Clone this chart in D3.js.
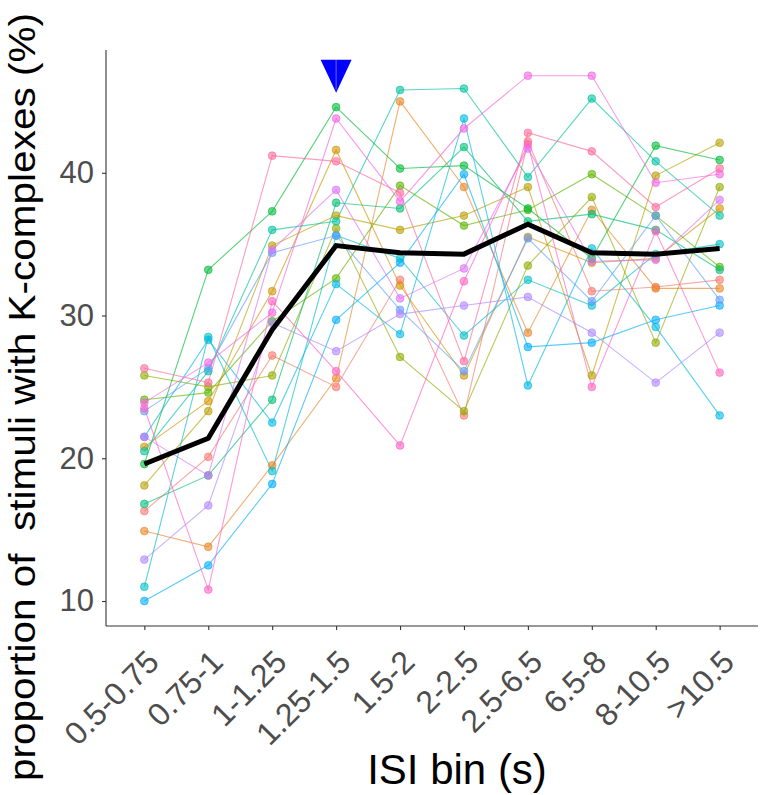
<!DOCTYPE html>
<html>
<head>
<meta charset="utf-8">
<script src="https://cdn.jsdelivr.net/npm/d3@7"></script>
<style>
  html, body { margin: 0; padding: 0; background: #fff; }
  svg { display: block; }
</style>
</head>
<body>
<svg id="chart" width="760" height="795"></svg>
<script>
// ---------------- data ----------------
const categories = ["0.5-0.75", "0.75-1", "1-1.25", "1.25-1.5", "1.5-2", "2-2.5", "2.5-6.5", "6.5-8", "8-10.5", ">10.5"];
const yTicks = [10, 20, 30, 40];

const subj01 = [16.3, 20.1, 27.2, 25.0, 32.5, 23.0, 42.2, 31.7, 32.0, 32.5];
const subj02 = [14.9, 13.8, 19.5, 25.6, 45.0, 39.0, 28.8, 37.4, 31.9, 31.9];
const subj03 = [20.8, 24.0, 31.7, 41.6, 32.1, 25.8, 35.5, 33.7, 34.0, 37.5];
const subj04 = [18.1, 23.3, 34.9, 37.0, 36.0, 37.0, 39.0, 25.8, 39.8, 42.1];
const subj05 = [25.8, 25.0, 25.8, 36.1, 27.1, 23.3, 33.5, 38.3, 28.1, 39.0];
const subj06 = [24.1, 24.6, 29.6, 32.6, 39.1, 36.3, 37.4, 39.9, 37.0, 33.4];
const subj07 = [19.6, 33.2, 37.3, 44.6, 40.3, 40.5, 37.5, 34.0, 41.9, 40.9];
const subj08 = [16.8, 18.8, 24.1, 37.9, 37.5, 41.8, 36.6, 37.1, 36.0, 33.2];
const subj09 = [20.5, 26.1, 36.0, 36.6, 45.8, 45.9, 39.7, 45.2, 40.8, 37.0];
const subj10 = [11.0, 28.5, 19.1, 35.6, 34.0, 28.6, 32.5, 30.7, 34.3, 35.0];
const subj11 = [21.5, 28.3, 22.5, 32.2, 28.7, 43.8, 25.1, 34.7, 29.2, 23.0];
const subj12 = [10.0, 12.5, 18.2, 29.7, 33.7, 39.9, 27.8, 28.1, 29.7, 30.7];
const subj13 = [23.3, 26.3, 34.4, 35.6, 30.4, 26.1, 35.4, 31.0, 37.0, 31.1];
const subj14 = [12.9, 16.7, 29.5, 27.5, 30.1, 30.7, 31.3, 28.8, 25.3, 28.8];
const subj15 = [21.5, 18.8, 34.6, 38.8, 31.2, 33.3, 41.7, 33.8, 33.9, 38.1];
const subj16 = [23.9, 26.7, 30.2, 43.8, 38.0, 43.1, 46.8, 46.8, 39.3, 39.9];
const subj17 = [23.5, 10.8, 31.0, 26.1, 20.9, 32.4, 42.0, 25.0, 35.9, 26.0];
const subj18 = [26.3, 25.3, 41.2, 40.8, 38.6, 26.8, 42.8, 41.5, 37.6, 40.3];

const meanValues = [19.6, 21.4, 29.0, 34.9, 34.4, 34.3, 36.4, 34.4, 34.3, 34.7];
const markerCategory = "1.25-1.5";
const markerValue = 45.6;

const subjectColors = ["#F8766D", "#E88526", "#D39200", "#B79F00", "#93AA00", "#5EB300",
  "#00BA38", "#00BF74", "#00C19F", "#00BFC4", "#00B9E3", "#00ADFA",
  "#619CFF", "#AE87FF", "#DB72FB", "#F564E3", "#FF61C3", "#FF699C"];

const subjects = [subj01, subj02, subj03, subj04, subj05, subj06, subj07, subj08, subj09,
  subj10, subj11, subj12, subj13, subj14, subj15, subj16, subj17, subj18];

// ---------------- chart ----------------
const font = "'Liberation Sans', Arial, sans-serif";
const svg = d3.select("#chart");
const plot = { left: 106, right: 758, top: 50, bottom: 626 };

const x = d3.scalePoint().domain(categories).range([plot.left, plot.right]).padding(0.6);
const y = d3.scaleLinear().domain([8.25, 48.6]).range([plot.bottom, plot.top]);

const line = d3.line().x((d, i) => x(categories[i])).y(d => y(d));

// subject lines
const gLines = svg.append("g");
subjects.forEach((s, k) => {
  gLines.append("path")
    .datum(s)
    .attr("d", line)
    .attr("fill", "none")
    .attr("stroke", subjectColors[k])
    .attr("stroke-opacity", 0.65)
    .attr("stroke-width", 1.1);
});

// subject points
const gPts = svg.append("g");
subjects.forEach((s, k) => {
  gPts.selectAll(null)
    .data(s)
    .join("circle")
    .attr("cx", (d, i) => x(categories[i]))
    .attr("cy", d => y(d))
    .attr("r", 3.9)
    .attr("fill", subjectColors[k])
    .attr("fill-opacity", 0.6)
    .attr("stroke", subjectColors[k])
    .attr("stroke-opacity", 0.75)
    .attr("stroke-width", 0.8);
});

// mean line
svg.append("path")
  .datum(meanValues)
  .attr("d", line)
  .attr("fill", "none")
  .attr("stroke", "#000")
  .attr("stroke-width", 5)
  .attr("stroke-linejoin", "miter");

// marker triangle
const mx = x(markerCategory), my = y(markerValue);
const tw = 31, th = 33;
svg.append("path")
  .attr("d", `M${mx - tw / 2},${my - th} L${mx + tw / 2},${my - th} L${mx},${my} Z`)
  .attr("fill", "#0000FF");
svg.append("line")
  .attr("x1", mx).attr("x2", mx)
  .attr("y1", my - th).attr("y2", my - 3)
  .attr("stroke", "#ffffff").attr("stroke-opacity", 0.5).attr("stroke-width", 0.8);

// axes
const axisColor = "#333333";
const tickTextColor = "#4D4D4D";

const gy = svg.append("g")
  .attr("transform", `translate(${plot.left},0)`)
  .call(d3.axisLeft(y).tickValues(yTicks).tickSize(4).tickSizeOuter(0).tickPadding(8));
gy.select(".domain").attr("stroke", axisColor).attr("stroke-width", 1.1)
  .attr("d", `M0,${plot.top}V${plot.bottom}`);
gy.selectAll(".tick line").attr("stroke", axisColor).attr("stroke-width", 1.1);
gy.selectAll(".tick text")
  .attr("fill", tickTextColor)
  .style("font-family", font)
  .style("font-size", "31px");

const gx = svg.append("g")
  .attr("transform", `translate(0,${plot.bottom})`)
  .call(d3.axisBottom(x).tickSize(4).tickSizeOuter(0));
gx.select(".domain").attr("stroke", axisColor).attr("stroke-width", 1.1)
  .attr("d", `M${plot.left},0H${plot.right}`);
gx.selectAll(".tick line").attr("stroke", axisColor).attr("stroke-width", 1.1);
gx.selectAll(".tick text")
  .attr("fill", tickTextColor)
  .style("font-family", font)
  .style("font-size", "32px")
  .attr("text-anchor", "end")
  .attr("x", 0).attr("y", 0).attr("dy", 0)
  .attr("transform", "translate(16,38) rotate(-45)");

// axis titles
svg.append("text")
  .attr("x", 457)
  .attr("y", 784)
  .attr("text-anchor", "middle")
  .style("font-family", font)
  .style("font-size", "42px")
  .attr("fill", "#000")
  .text("ISI bin (s)");

svg.append("text")
  .attr("transform", "translate(35,397) rotate(-90)")
  .attr("text-anchor", "middle")
  .attr("textLength", 768)
  .attr("lengthAdjust", "spacingAndGlyphs")
  .style("white-space", "pre")
  .style("font-family", font)
  .style("font-size", "37px")
  .attr("fill", "#000")
  .text("proportion of  stimuli with K-complexes (%)");
</script>
</body>
</html>
